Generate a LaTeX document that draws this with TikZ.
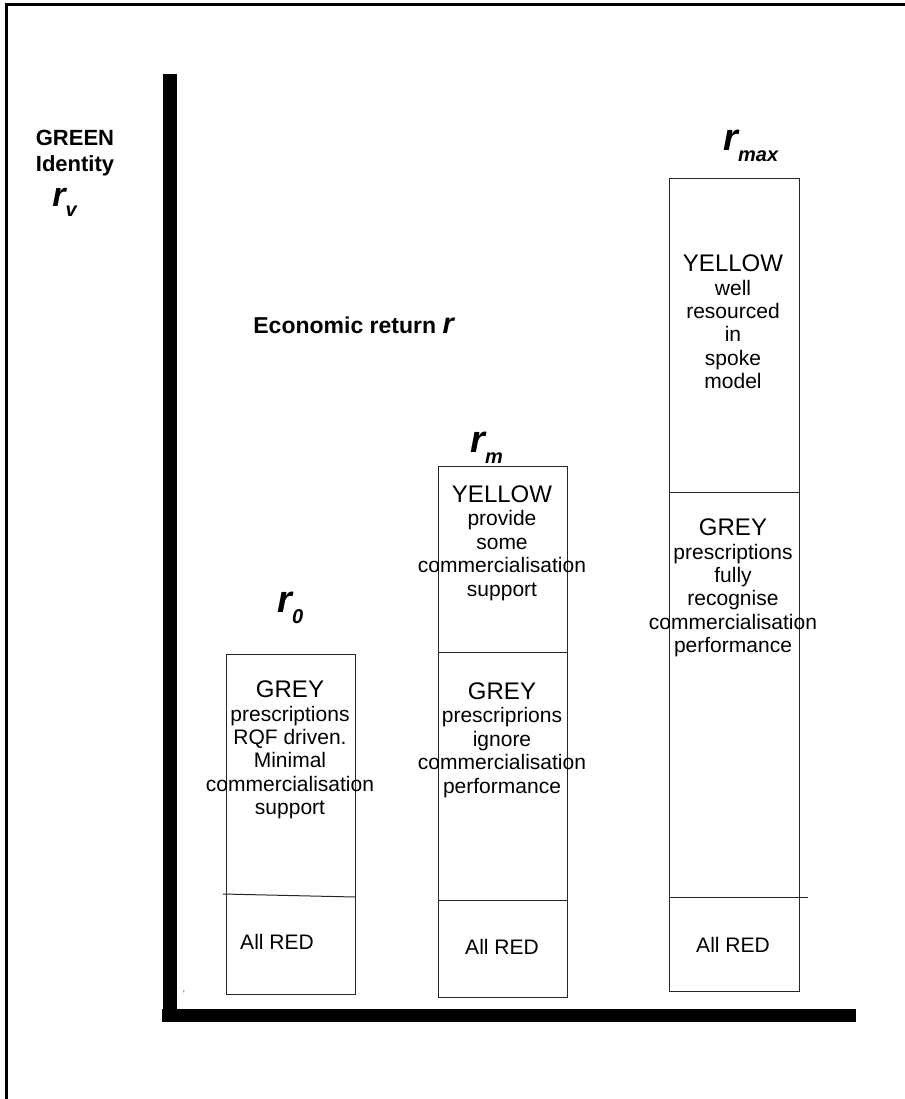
\documentclass[tikz,border=0pt]{standalone}
\usepackage{fontspec}
\setmainfont{Liberation Sans}
\newcommand{\retsym}[2][19]{{\fontsize{#1}{#1}\selectfont\bfseries\itshape r\raisebox{-0.3em}{\fontsize{10}{10}\selectfont #2}}}
\begin{document}
\begin{tikzpicture}[x=0.5pt,y=-0.5pt]
  \useasboundingbox (0,0) rectangle (905,1099);
  % frame and axes
  \draw[line width=1.5pt] (6.5,1099) -- (6.5,4.5) -- (905,4.5);
  \fill (163,74) rectangle (177,1022);
  \fill (162,1009) rectangle (856,1022);
  % boxes
  \begin{scope}[line width=0.5pt,draw=black!85]
  \draw (226,654) rectangle (355,994);
  \draw (223,894) -- (355,897);
  \draw (438,466) rectangle (567,997);
  \draw (438,652) -- (567,652);
  \draw (438,900) -- (567,900);
  \draw (669,178) rectangle (799,991);
  \draw (669,492) -- (800,492);
  \draw (669,897) -- (808,897);
  \end{scope}
  % axis labels
  \begin{scope}[every node/.style={align=center,inner sep=0,font=\fontsize{11}{13}\selectfont\bfseries}]
  \node (green) at (75,153) {GREEN\\Identity};
  \node[anchor=base west] (rv) at (52,206) {\retsym[17]{v}};
  \node[anchor=base west,font=\fontsize{11.5}{13}\selectfont\bfseries] (econ) at (253,333) {Economic return \retsym[14.5]{}};
  \end{scope}
  % return levels
  \begin{scope}[every node/.style={anchor=base west,inner sep=0}]
  \node (r0) at (277,612) {\retsym{0}};
  \node (rm) at (470,452) {\retsym{m}};
  \node (rmax) at (723,150) {\retsym{max}};
  \end{scope}
  % box texts
  \begin{scope}[every node/.style={align=center,inner sep=0,font=\fontsize{10.5}{11.7}\selectfont}]
  \node (grey0) at (290,750) {{\fontsize{12}{11.7}\selectfont GREY}\\prescriptions\\RQF driven.\\Minimal\\commercialisation\\support};
  \node (red0) at (277,942) {All RED};
  \node (yellowm) at (502,543) {{\fontsize{12}{11.7}\selectfont YELLOW}\\provide\\some\\commercialisation\\support};
  \node (greym) at (502,740) {{\fontsize{12}{11.7}\selectfont GREY}\\prescriprions\\ignore\\commercialisation\\performance};
  \node (redm) at (502,947) {All RED};
  \node (yellowmax) at (733,322) {{\fontsize{12}{11.7}\selectfont YELLOW}\\well\\resourced\\in\\spoke\\model};
  \node (greymax) at (733,588) {{\fontsize{12}{11.7}\selectfont GREY}\\prescriptions\\fully\\recognise\\commercialisation\\performance};
  \node (redmax) at (733,945) {All RED};
  \end{scope}
  \node[inner sep=0,font=\tiny,text=black!70] (tick) at (184,994) {`};
\end{tikzpicture}
\end{document}
